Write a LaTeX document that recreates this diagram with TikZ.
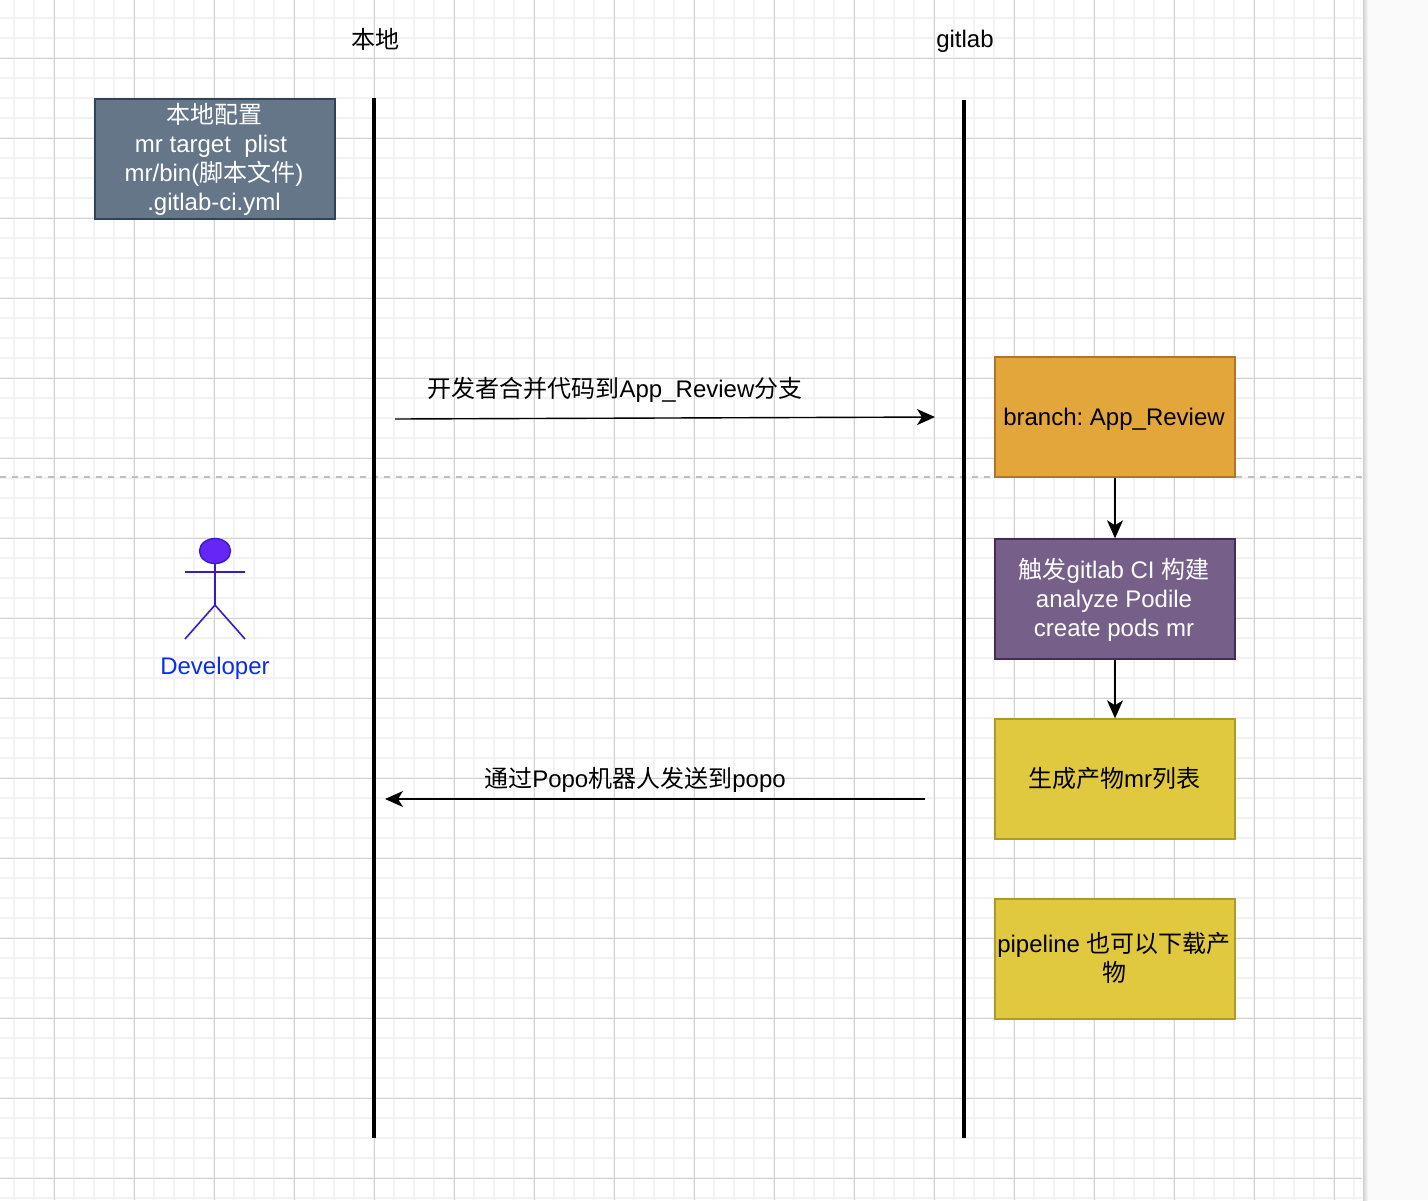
\documentclass[tikz,border=0pt]{standalone}
\usepackage{fontspec}
\setmainfont{Liberation Sans}
\frenchspacing
\newfontfamily\cjk{Noto Sans CJK SC}
\newcommand{\zh}[1]{{\cjk #1}}
\newcommand{\nudge}[2]{\kern-0.5pt\raisebox{#1}[\height][\depth]{\begin{tabular}{@{}c@{}}#2\end{tabular}}\kern0.5pt}
\usetikzlibrary{arrows.meta,shapes.geometric}
\definecolor{gridmajor}{HTML}{D2D2D2}
\definecolor{gridminor}{HTML}{F2F2F2}
\definecolor{configfill}{HTML}{647687}
\definecolor{configline}{HTML}{314354}
\definecolor{branchfill}{HTML}{E3A63B}
\definecolor{branchline}{HTML}{B0742A}
\definecolor{buildfill}{HTML}{76608A}
\definecolor{buildline}{HTML}{432D57}
\definecolor{listfill}{HTML}{E0C93F}
\definecolor{listline}{HTML}{AD9A2B}
\definecolor{actorfill}{HTML}{6427F5}
\definecolor{actorline}{HTML}{3A19CC}
\definecolor{actortext}{HTML}{0A2CF0}
\tikzset{
  >={Stealth[length=9pt,width=8pt,inset=2.5pt]},
  every node/.style={font=\fontsize{12}{14.5}\selectfont,align=center},
  box/.style={draw,line width=0.7pt,minimum width=120pt,minimum height=60pt,inner sep=0pt},
  lifeline/.style={line width=2pt},
  msg/.style={->,line width=0.7pt},
  flow/.style={->,line width=0.7pt},
  actorlimb/.style={draw=actorline,line width=0.8pt}
}
\begin{document}
\begin{tikzpicture}[x=0.5pt,y=-0.5pt]
    \useasboundingbox (0,0) rectangle (1428,1200);
    % page and grid
    \fill[white] (0,0) rectangle (1363,1200);
    \fill[black!2] (1363,0) rectangle (1428,1200);
    \shade[left color=black!18,right color=black!2] (1363,0) rectangle (1368,1200);
    \foreach \x in {14,34,...,1354} \draw[gridminor,line width=0.7pt] (\x,0) -- (\x,1200);
    \foreach \y in {18,38,...,1198} \draw[gridminor,line width=0.7pt] (0,\y) -- (1362,\y);
    \foreach \x in {54,134,...,1334} \draw[gridmajor,line width=0.5pt] (\x,0) -- (\x,1200);
    \foreach \y in {58,138,...,1178} \draw[gridmajor,line width=0.5pt] (0,\y) -- (1362,\y);
    \draw[black!25,line width=0.7pt,dash pattern=on 3pt off 3pt] (0,477) -- (1363,477);

    \node (local) at (375,39) {\zh{本地}};
    \node (gitlab) at (965,41) {gitlab};
    \coordinate (localtop) at (374,98);
    \coordinate (localend) at (374,1138);
    \coordinate (gittop) at (964,100);
    \coordinate (gitend) at (964,1138);
    \draw[lifeline] (localtop) -- (localend);
    \draw[lifeline] (gittop) -- (gitend);

    \node[box,fill=configfill,draw=configline,text=white] (config) at (215,159)
      {\nudge{-1.25pt}{\zh{本地配置}\\mr target\ \ plist\kern3pt\\mr/bin(\zh{脚本文件})\\.gitlab-ci.yml}};
    \node[box,fill=branchfill,draw=branchline] (branch) at (1115,417) {\nudge{-1.5pt}{branch: App\_Review}};
    \node[box,fill=buildfill,draw=buildline,text=white] (build) at (1115,599)
      {\nudge{-1.5pt}{\zh{触发}gitlab CI \zh{构建}\\analyze Podile\\create pods mr}};
    \node[box,fill=listfill,draw=listline] (list) at (1115,779) {\nudge{-1.5pt}{\zh{生成产物}mr\zh{列表}}};
    \node[box,fill=listfill,draw=listline] (pipe) at (1115,959) {\nudge{-1pt}{pipeline \zh{也可以下载产}\\\zh{物}}};
    \draw[flow] (branch) -- (build);
    \draw[flow] (build) -- (list);

    % messages
    \coordinate (mergefrom) at (395,419);
    \coordinate (mergeto) at (935,417);
    \coordinate (sendfrom) at (925,799);
    \coordinate (sendto) at (385,799);
    \draw[msg] (mergefrom) -- (mergeto);
    \draw[msg] (sendfrom) -- (sendto);
    \node (mergelabel) at (615,390) {\zh{开发者合并代码到}App\_Review\zh{分支}};
    \node (sendlabel) at (635,780) {\zh{通过}Popo\zh{机器人发送到}popo};

    % actor
    \node[draw=actorline,fill=actorfill,line width=0.7pt,ellipse,minimum width=15.5pt,minimum height=12.5pt,inner sep=0pt] (head) at (215,551) {};
    \coordinate (hip) at (215,605);
    \coordinate (armleft) at (185,572);
    \coordinate (armright) at (245,572);
    \coordinate (footleft) at (185,639);
    \coordinate (footright) at (245,639);
    \path[actorlimb] (head) -- (hip);
    \path[actorlimb] (armleft) -- (armright);
    \path[actorlimb] (footleft) -- (hip) -- (footright);
    \node[text=actortext] (dev) at (215,668) {Developer};
\end{tikzpicture}
\end{document}
